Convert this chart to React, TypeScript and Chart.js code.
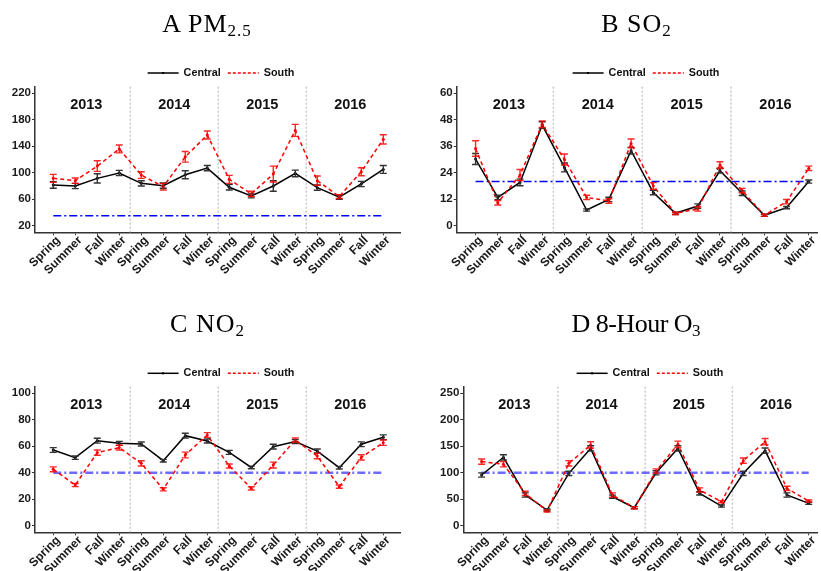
import React, { useEffect, useRef } from 'react';
import { Chart, registerables } from 'chart.js';

Chart.register(...registerables);

const seasons = [
  'Spring', 'Summer', 'Fall', 'Winter',
  'Spring', 'Summer', 'Fall', 'Winter',
  'Spring', 'Summer', 'Fall', 'Winter',
  'Spring', 'Summer', 'Fall', 'Winter',
];
const years = ['2013', '2014', '2015', '2016'];

// A PM2.5
const pmCentral = [81.5, 80, 91.5, 99.6, 84, 80.5, 97, 107, 78, 65, 80, 99, 77.5, 63, 83, 105];
const pmCentralErr = [5, 4, 7, 4, 4, 4, 6, 4, 4, 3, 8, 5, 4, 3, 4, 6];
const pmSouth = [91.5, 88, 110, 136, 96.5, 79, 124, 157, 90, 68, 98, 164, 88, 64, 101.5, 150.5];
const pmSouthErr = [6, 4, 8, 6, 5, 5, 8, 6, 6, 4, 12, 9, 7, 3, 6, 7];
const pmTicks = [20, 60, 100, 140, 180, 220];
const pmStandard = 35;

// B SO2
const so2Central = [30.2, 12.8, 19.6, 45.6, 26.4, 7.1, 11.9, 34, 15, 5.6, 8.9, 24.9, 14.7, 4.7, 8.2, 20];
const so2CentralErr = [2.5, 1, 1.5, 1.5, 2, 0.5, 1, 1.5, 1, 0.5, 1, 1, 1, 0.5, 0.5, 0.7];
const so2South = [35, 10.4, 23, 46, 30, 12.8, 11.2, 37.3, 18, 5.6, 7.6, 27.5, 15.9, 4.7, 10.9, 26];
const so2SouthErr = [3.5, 1, 2.5, 1.5, 2.5, 1, 1, 2, 1.5, 0.5, 1, 1.5, 1, 0.5, 1, 1];
const so2Ticks = [0, 12, 24, 36, 48, 60];
const so2Standard = 20;

// C NO2
const no2Central = [57.2, 51.4, 64.2, 62.2, 61.7, 49.1, 68, 64, 55.4, 44, 59.7, 63.5, 56.4, 43.8, 61.5, 66.8];
const no2CentralErr = [1.8, 1.3, 1.8, 1.5, 1.5, 1, 1.8, 1.5, 1.5, 1, 1.8, 1.5, 1.5, 1, 1.8, 1.8];
const no2South = [42.6, 30.7, 55.2, 59, 47.1, 27.5, 53.4, 68.5, 45.1, 28.2, 45.8, 64.7, 52.6, 29.5, 51.6, 62.7];
const no2SouthErr = [1.8, 1.2, 2, 1.8, 2, 1.2, 2.2, 1.8, 1.5, 1.2, 2.2, 1.5, 2, 1.2, 2, 2];
const no2Ticks = [0, 20, 40, 60, 80, 100];
const no2Standard = 40;

// D 8-Hour O3
const o3Central = [95.7, 129, 58, 29.6, 98.9, 146, 54.8, 34, 100, 146, 61, 37, 98.9, 141.7, 58, 42.2];
const o3CentralErr = [4, 5, 4, 2, 4, 5, 3, 2, 4, 5, 3, 2, 4, 5, 4, 2];
const o3South = [121, 116, 61, 27.7, 117.8, 152.4, 58, 34, 103.3, 153.7, 67.4, 45.3, 122.8, 158.7, 70.5, 46.6];
const o3SouthErr = [5, 5, 4, 2, 5, 6, 4, 2, 4, 6, 4, 2, 5, 6, 4, 2];
const o3Ticks = [0, 50, 100, 150, 200, 250];
const o3Standard = 100;

const SANS = '"Liberation Sans", Arial, Helvetica, sans-serif';

type PanelCfg = {
  central: number[]; centralErr: number[]; south: number[]; southErr: number[];
  ticks: number[]; yMin: number; yMax: number; standard: number; yearY: number;
  xMin: number; xMax: number;
  left: number; top: number; width: number; height: number;
  yWidth: number; padTop: number; padRight: number; xHeight: number;
  stdColor: string; stdWidth: number; legendX: number; legendY: number;
};

const panels: PanelCfg[] = [
  {
    central: pmCentral, centralErr: pmCentralErr, south: pmSouth, southErr: pmSouthErr,
    ticks: pmTicks, yMin: 10, yMax: 230, standard: pmStandard, yearY: 202,
    xMin: -0.83, xMax: 15.76,
    left: 0, top: 0, width: 410, height: 285,
    yWidth: 35, padTop: 86.7, padRight: 10, xHeight: 52.7,
    stdColor: '#0000ff', stdWidth: 1.5, legendX: 221, legendY: 73,
  },
  {
    central: so2Central, centralErr: so2CentralErr, south: so2South, southErr: so2SouthErr,
    ticks: so2Ticks, yMin: -3, yMax: 63, standard: so2Standard, yearY: 54.7,
    xMin: -0.85, xMax: 15.37,
    left: 410, top: 0, width: 411, height: 285,
    yWidth: 46.7, padTop: 86.7, padRight: 1, xHeight: 52.7,
    stdColor: '#0000ff', stdWidth: 1.5, legendX: 236, legendY: 73,
  },
  {
    central: no2Central, centralErr: no2CentralErr, south: no2South, southErr: no2SouthErr,
    ticks: no2Ticks, yMin: -5, yMax: 105, standard: no2Standard, yearY: 91,
    xMin: -0.83, xMax: 15.76,
    left: 0, top: 290, width: 410, height: 281,
    yWidth: 35, padTop: 96.7, padRight: 10, xHeight: 38.7,
    stdColor: 'rgba(70,70,255,0.8)', stdWidth: 2.5, legendX: 221, legendY: 83.3,
  },
  {
    central: o3Central, centralErr: o3CentralErr, south: o3South, southErr: o3SouthErr,
    ticks: o3Ticks, yMin: -12.5, yMax: 262.5, standard: o3Standard, yearY: 228,
    xMin: -0.84, xMax: 15.38,
    left: 410, top: 290, width: 411, height: 281,
    yWidth: 53.3, padTop: 96.7, padRight: 1, xHeight: 38.7,
    stdColor: 'rgba(70,70,255,0.8)', stdWidth: 2.5, legendX: 240, legendY: 83.3,
  },
];

const titles = [
  { main: 'A PM', sub: '2.5', cx: 207, top: 10.5, ls: 1, subLs: 1 },
  { main: 'B SO', sub: '2', cx: 636, top: 10.5, ls: 1, subLs: 0 },
  { main: 'C NO', sub: '2', cx: 207, top: 310.5, ls: 1, subLs: 0 },
  { main: 'D 8-Hour O', sub: '3', cx: 636, top: 310.5, ls: -0.5, subLs: 0 },
];

const decorPlugin = {
  id: 'decor',
  beforeDatasetsDraw(chart: any) {
    const { ctx, chartArea, scales } = chart;
    ctx.save();
    ctx.strokeStyle = '#c8c8c8';
    ctx.lineWidth = 1.5;
    ctx.setLineDash([2, 2]);
    [3.5, 7.5, 11.5].forEach((v) => {
      const x = scales.x.getPixelForValue(v);
      ctx.beginPath();
      ctx.moveTo(x, chartArea.top);
      ctx.lineTo(x, chartArea.bottom);
      ctx.stroke();
    });
    ctx.restore();
  },
  afterDatasetsDraw(chart: any) {
    const { ctx, scales } = chart;
    const cfg: PanelCfg = chart.options.plugins.decor.cfg;
    const drawErr = (vals: number[], errs: number[], color: string) => {
      ctx.save();
      ctx.strokeStyle = color;
      ctx.lineWidth = 1.4;
      ctx.setLineDash([]);
      vals.forEach((v, i) => {
        const x = scales.x.getPixelForValue(i);
        const y1 = scales.y.getPixelForValue(v - errs[i]);
        const y2 = scales.y.getPixelForValue(v + errs[i]);
        ctx.beginPath();
        ctx.moveTo(x, y1); ctx.lineTo(x, y2);
        ctx.moveTo(x - 3.5, y1); ctx.lineTo(x + 3.5, y1);
        ctx.moveTo(x - 3.5, y2); ctx.lineTo(x + 3.5, y2);
        ctx.stroke();
      });
      ctx.restore();
    };
    drawErr(cfg.central, cfg.centralErr, '#333333');
    drawErr(cfg.south, cfg.southErr, 'rgba(255,0,0,0.85)');

    // year labels
    ctx.save();
    ctx.fillStyle = '#111';
    ctx.font = `bold 14.5px ${SANS}`;
    ctx.textAlign = 'center';
    ctx.textBaseline = 'middle';
    years.forEach((yr, k) => {
      ctx.fillText(yr, scales.x.getPixelForValue(k * 4 + 1.5), scales.y.getPixelForValue(cfg.yearY));
    });
    ctx.restore();

    // legend
    ctx.save();
    ctx.font = `bold 10.8px ${SANS}`;
    ctx.textBaseline = 'middle';
    ctx.textAlign = 'left';
    const wC = ctx.measureText('Central').width;
    const wS = ctx.measureText('South').width;
    const lineLen = 31;
    const total = lineLen + 5 + wC + 7 + lineLen + 5 + wS;
    let x = cfg.legendX - total / 2;
    const y = cfg.legendY;
    ctx.strokeStyle = '#000';
    ctx.lineWidth = 1.5;
    ctx.beginPath(); ctx.moveTo(x, y); ctx.lineTo(x + lineLen, y); ctx.stroke();
    ctx.fillStyle = '#000';
    ctx.fillRect(x + lineLen / 2 - 1, y - 1, 2, 2);
    x += lineLen + 5;
    ctx.fillStyle = '#111';
    ctx.fillText('Central', x, y);
    x += wC + 7;
    ctx.strokeStyle = '#ff0000';
    ctx.setLineDash([3, 2]);
    ctx.beginPath(); ctx.moveTo(x, y); ctx.lineTo(x + lineLen, y); ctx.stroke();
    ctx.setLineDash([]);
    x += lineLen + 5;
    ctx.fillStyle = '#111';
    ctx.fillText('South', x, y);
    ctx.restore();
  },
};

function Panel({ cfg }: { cfg: PanelCfg }) {
  const ref = useRef<HTMLCanvasElement | null>(null);
  useEffect(() => {
    if (!ref.current) return;
    const axisGrid = { display: true, drawOnChartArea: false, drawTicks: true, tickLength: 3, color: '#333', lineWidth: 1 };
    const axisBorder = { display: true, color: '#333', width: 1.5 };
    const chart = new Chart(ref.current, {
      type: 'line',
      data: {
        datasets: [
          {
            label: 'South',
            data: cfg.south.map((y, i) => ({ x: i, y })),
            borderColor: '#ff0000',
            backgroundColor: '#ff0000',
            borderWidth: 1.5,
            borderDash: [4, 3],
            pointRadius: 1.5,
            pointBorderWidth: 0,
            pointBackgroundColor: '#ff0000',
            tension: 0,
          },
          {
            label: 'Central',
            data: cfg.central.map((y, i) => ({ x: i, y })),
            borderColor: '#000',
            backgroundColor: '#000',
            borderWidth: 1.5,
            pointRadius: 1.5,
            pointBorderWidth: 0,
            pointBackgroundColor: '#000',
            tension: 0,
          },
          {
            label: 'Standard',
            data: [{ x: 0, y: cfg.standard }, { x: 15, y: cfg.standard }],
            borderColor: cfg.stdColor,
            borderWidth: cfg.stdWidth,
            borderDash: [8, 3, 2, 3],
            pointRadius: 0,
          },
        ],
      },
      options: {
        animation: false,
        responsive: false,
        devicePixelRatio: 1,
        layout: { padding: { top: cfg.padTop, right: cfg.padRight, left: 0, bottom: 0 } },
        plugins: {
          legend: { display: false },
          tooltip: { enabled: false },
          decor: { cfg },
        } as any,
        scales: {
          x: {
            type: 'linear',
            min: cfg.xMin,
            max: cfg.xMax,
            afterBuildTicks: (s: any) => { s.ticks = seasons.map((_, i) => ({ value: i })); },
            afterFit: (s: any) => { s.height = cfg.xHeight; s.paddingLeft = 0; s.paddingRight = 0; },
            ticks: {
              autoSkip: false,
              maxRotation: 45,
              minRotation: 45,
              padding: -2,
              labelOffset: 5,
              color: '#1a1a1a',
              font: { family: SANS, weight: 'bold', size: 12 },
              callback: (v: any) => seasons[Math.round(Number(v))] ?? '',
            },
            grid: axisGrid,
            border: axisBorder,
          },
          y: {
            type: 'linear',
            min: cfg.yMin,
            max: cfg.yMax,
            afterBuildTicks: (s: any) => { s.ticks = cfg.ticks.map((v) => ({ value: v })); },
            afterFit: (s: any) => { s.width = cfg.yWidth; s.paddingTop = 0; s.paddingBottom = 0; },
            ticks: {
              padding: 1,
              color: '#1a1a1a',
              font: { family: SANS, weight: 'bold', size: 11.5 },
              callback: (v: any) => String(v),
            },
            grid: axisGrid,
            border: axisBorder,
          },
        } as any,
      },
      plugins: [decorPlugin],
    } as any);
    return () => chart.destroy();
  }, [cfg]);
  return (
    <canvas
      ref={ref}
      width={cfg.width}
      height={cfg.height}
      style={{ position: 'absolute', left: cfg.left, top: cfg.top, width: cfg.width, height: cfg.height }}
    />
  );
}

export default function App() {
  return (
    <div style={{ position: 'absolute', left: 0, top: 0, width: 821, height: 571, background: '#fff', overflow: 'hidden' }}>
      {panels.map((p, i) => <Panel key={i} cfg={p} />)}
      {titles.map((t, i) => (
        <div
          key={'t' + i}
          style={{
            position: 'absolute', left: t.cx - 150, top: t.top, width: 300, textAlign: 'center',
            fontFamily: '"Liberation Serif", "Times New Roman", serif', fontSize: 26, lineHeight: '26px',
            color: '#000', whiteSpace: 'nowrap',
          }}
        >
          <span style={{ letterSpacing: `${t.ls}px` }}>{t.main}</span>
          <span style={{ fontSize: 17, verticalAlign: -4, lineHeight: 0, letterSpacing: `${t.subLs}px` }}>{t.sub}</span>
        </div>
      ))}
    </div>
  );
}
